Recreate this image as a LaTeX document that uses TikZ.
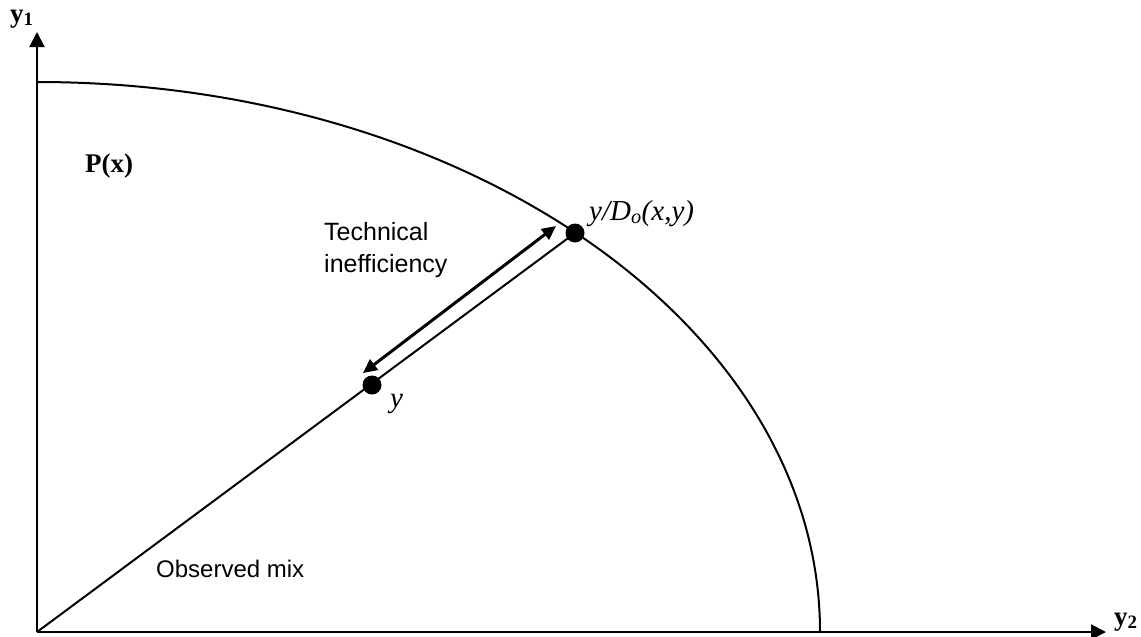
\documentclass[tikz,border=0pt]{standalone}
\usepackage{fontspec}
\setmainfont{Liberation Serif}
\newfontfamily\arialfont{Liberation Sans}
\usetikzlibrary{arrows.meta}
\tikzset{
  axis/.style={line width=2pt,-{Triangle[length=15pt,width=15pt]}},
  thin/.style={line width=2pt},
  dot/.style={circle,fill=black,inner sep=0pt,minimum size=19pt},
  sanslabel/.style={font=\arialfont\fontsize{25}{32}\selectfont,align=left,inner sep=0pt},
  seriflabel/.style={font=\fontsize{29}{34}\selectfont,inner sep=0pt},
  dbl/.style={line width=3pt,{Triangle[length=14pt,width=13pt]}-{Triangle[length=14pt,width=13pt]}}
}
\begin{document}
\begin{tikzpicture}[x=1pt,y=-1pt]
\useasboundingbox (0,0) rectangle (1141,637);
\coordinate (O) at (37,632);
\coordinate (ytip) at (37,32);
\coordinate (xtip) at (1106,632);
\draw[axis] (O) -- (ytip);
\draw[axis] (O) -- (xtip);
% frontier (quarter ellipse)
\draw[thin] (37,82) arc[start angle=90,end angle=0,x radius=783,y radius=-550];
% points
\node[dot] (Y) at (372,385) {};
\node[dot] (F) at (575,233) {};
\draw[thin] (O) -- (F.center);
\coordinate (a1) at (363,373);
\coordinate (a2) at (556,226);
\draw[dbl] (a1) -- (a2);
% labels
\node[seriflabel,anchor=base west,font=\fontsize{27}{32}\selectfont] (ly1) at (10,22) {\textbf{y\textsubscript{1}}};
\node[seriflabel,anchor=base west,font=\fontsize{27}{32}\selectfont] (ly2) at (1114,625) {\textbf{y\textsubscript{2}}};
\node[seriflabel,anchor=base west,font=\fontsize{27}{32}\selectfont] (lP) at (85,172) {\textbf{P(x)}};
\node[seriflabel,anchor=base west] (lF) at (589,220) {\textit{y/D\textsubscript{o}(x,y)}};
\node[seriflabel,anchor=base west] (lY) at (390,407) {\textit{y}};
\node[sanslabel,anchor=base west] (lT) at (324,272) {Technical\\inefficiency};
\node[sanslabel,anchor=base west,font=\arialfont\fontsize{24}{29}\selectfont] (lO) at (156,577) {Observed mix};
\end{tikzpicture}
\end{document}
